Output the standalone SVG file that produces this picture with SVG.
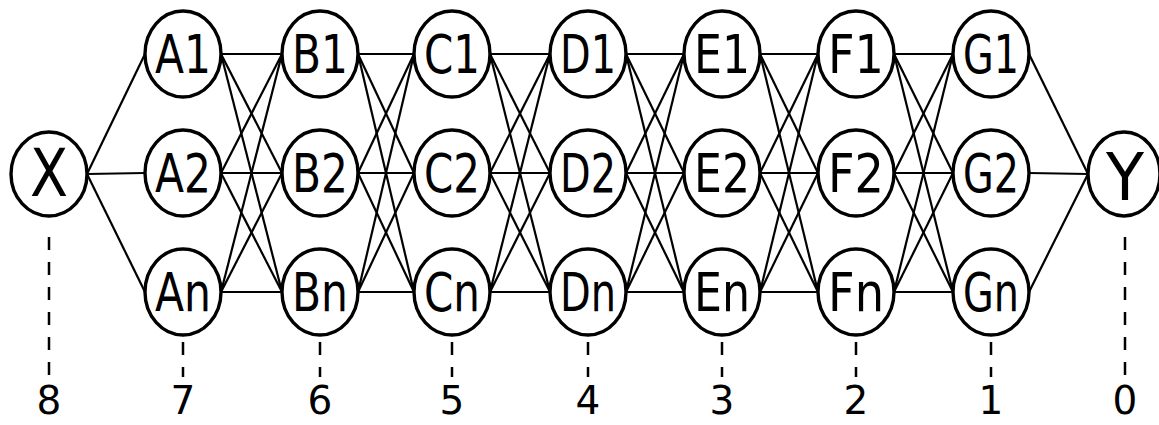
<svg xmlns="http://www.w3.org/2000/svg" width="1159" height="425" viewBox="0 0 1159 425">
<style>
.n ellipse{fill:#fff;stroke:#000;stroke-width:3.4}
.n text{font-family:"DejaVu Sans",Verdana,sans-serif;font-size:53px;text-anchor:middle;fill:#000}
.n text.big{font-size:66px}
#edges line{stroke:#000;stroke-width:2.2}
#guides line{stroke:#000;stroke-width:2.5;stroke-dasharray:13 12}
#levels text{font-family:"DejaVu Sans",Verdana,sans-serif;font-size:39px;text-anchor:middle;fill:#000}
</style>
<rect width="1159" height="425" fill="#fff"/>
<g id="edges">
<line x1="87" y1="174" x2="145" y2="54"/><line x1="87" y1="174" x2="145" y2="173"/><line x1="87" y1="174" x2="145" y2="292"/>
<line x1="221" y1="54" x2="282" y2="54"/><line x1="221" y1="54" x2="282" y2="173"/><line x1="221" y1="54" x2="282" y2="292"/>
<line x1="221" y1="173" x2="282" y2="54"/><line x1="221" y1="173" x2="282" y2="173"/><line x1="221" y1="173" x2="282" y2="292"/>
<line x1="221" y1="292" x2="282" y2="54"/><line x1="221" y1="292" x2="282" y2="173"/><line x1="221" y1="292" x2="282" y2="292"/>
<line x1="358" y1="54" x2="414" y2="54"/><line x1="358" y1="54" x2="414" y2="173"/><line x1="358" y1="54" x2="414" y2="292"/>
<line x1="358" y1="173" x2="414" y2="54"/><line x1="358" y1="173" x2="414" y2="173"/><line x1="358" y1="173" x2="414" y2="292"/>
<line x1="358" y1="292" x2="414" y2="54"/><line x1="358" y1="292" x2="414" y2="173"/><line x1="358" y1="292" x2="414" y2="292"/>
<line x1="490" y1="54" x2="550" y2="54"/><line x1="490" y1="54" x2="550" y2="173"/><line x1="490" y1="54" x2="550" y2="292"/>
<line x1="490" y1="173" x2="550" y2="54"/><line x1="490" y1="173" x2="550" y2="173"/><line x1="490" y1="173" x2="550" y2="292"/>
<line x1="490" y1="292" x2="550" y2="54"/><line x1="490" y1="292" x2="550" y2="173"/><line x1="490" y1="292" x2="550" y2="292"/>
<line x1="626" y1="54" x2="684" y2="54"/><line x1="626" y1="54" x2="684" y2="173"/><line x1="626" y1="54" x2="684" y2="292"/>
<line x1="626" y1="173" x2="684" y2="54"/><line x1="626" y1="173" x2="684" y2="173"/><line x1="626" y1="173" x2="684" y2="292"/>
<line x1="626" y1="292" x2="684" y2="54"/><line x1="626" y1="292" x2="684" y2="173"/><line x1="626" y1="292" x2="684" y2="292"/>
<line x1="760" y1="54" x2="818" y2="54"/><line x1="760" y1="54" x2="818" y2="173"/><line x1="760" y1="54" x2="818" y2="292"/>
<line x1="760" y1="173" x2="818" y2="54"/><line x1="760" y1="173" x2="818" y2="173"/><line x1="760" y1="173" x2="818" y2="292"/>
<line x1="760" y1="292" x2="818" y2="54"/><line x1="760" y1="292" x2="818" y2="173"/><line x1="760" y1="292" x2="818" y2="292"/>
<line x1="894" y1="54" x2="953" y2="54"/><line x1="894" y1="54" x2="953" y2="173"/><line x1="894" y1="54" x2="953" y2="292"/>
<line x1="894" y1="173" x2="953" y2="54"/><line x1="894" y1="173" x2="953" y2="173"/><line x1="894" y1="173" x2="953" y2="292"/>
<line x1="894" y1="292" x2="953" y2="54"/><line x1="894" y1="292" x2="953" y2="173"/><line x1="894" y1="292" x2="953" y2="292"/>
<line x1="1029" y1="54" x2="1088" y2="174"/><line x1="1029" y1="173" x2="1088" y2="174"/><line x1="1029" y1="292" x2="1088" y2="174"/>
</g>
<g id="guides">
<line x1="49" y1="237" x2="49" y2="377"/>
<line x1="1125" y1="237" x2="1125" y2="377"/>
<line x1="183" y1="342" x2="183" y2="377"/>
<line x1="320" y1="342" x2="320" y2="377"/>
<line x1="452" y1="342" x2="452" y2="377"/>
<line x1="588" y1="342" x2="588" y2="377"/>
<line x1="722" y1="342" x2="722" y2="377"/>
<line x1="856" y1="342" x2="856" y2="377"/>
<line x1="991" y1="342" x2="991" y2="377"/>
</g>
<g id="node-X" class="n"><ellipse cx="49" cy="174" rx="38" ry="42"/><text class="big" x="49" y="196" textLength="38" lengthAdjust="spacingAndGlyphs">X</text></g>
<g id="node-A1" class="n"><ellipse cx="183" cy="54" rx="38" ry="43"/><text x="183" y="73" textLength="56" lengthAdjust="spacingAndGlyphs">A1</text></g>
<g id="node-A2" class="n"><ellipse cx="183" cy="173" rx="38" ry="43"/><text x="183" y="192" textLength="56" lengthAdjust="spacingAndGlyphs">A2</text></g>
<g id="node-An" class="n"><ellipse cx="183" cy="292" rx="38" ry="43"/><text x="183" y="311" textLength="56" lengthAdjust="spacingAndGlyphs">An</text></g>
<g id="node-B1" class="n"><ellipse cx="320" cy="54" rx="38" ry="43"/><text x="320" y="73" textLength="56" lengthAdjust="spacingAndGlyphs">B1</text></g>
<g id="node-B2" class="n"><ellipse cx="320" cy="173" rx="38" ry="43"/><text x="320" y="192" textLength="56" lengthAdjust="spacingAndGlyphs">B2</text></g>
<g id="node-Bn" class="n"><ellipse cx="320" cy="292" rx="38" ry="43"/><text x="320" y="311" textLength="56" lengthAdjust="spacingAndGlyphs">Bn</text></g>
<g id="node-C1" class="n"><ellipse cx="452" cy="54" rx="38" ry="43"/><text x="452" y="73" textLength="56" lengthAdjust="spacingAndGlyphs">C1</text></g>
<g id="node-C2" class="n"><ellipse cx="452" cy="173" rx="38" ry="43"/><text x="452" y="192" textLength="56" lengthAdjust="spacingAndGlyphs">C2</text></g>
<g id="node-Cn" class="n"><ellipse cx="452" cy="292" rx="38" ry="43"/><text x="452" y="311" textLength="56" lengthAdjust="spacingAndGlyphs">Cn</text></g>
<g id="node-D1" class="n"><ellipse cx="588" cy="54" rx="38" ry="43"/><text x="588" y="73" textLength="56" lengthAdjust="spacingAndGlyphs">D1</text></g>
<g id="node-D2" class="n"><ellipse cx="588" cy="173" rx="38" ry="43"/><text x="588" y="192" textLength="56" lengthAdjust="spacingAndGlyphs">D2</text></g>
<g id="node-Dn" class="n"><ellipse cx="588" cy="292" rx="38" ry="43"/><text x="588" y="311" textLength="56" lengthAdjust="spacingAndGlyphs">Dn</text></g>
<g id="node-E1" class="n"><ellipse cx="722" cy="54" rx="38" ry="43"/><text x="722" y="73" textLength="56" lengthAdjust="spacingAndGlyphs">E1</text></g>
<g id="node-E2" class="n"><ellipse cx="722" cy="173" rx="38" ry="43"/><text x="722" y="192" textLength="56" lengthAdjust="spacingAndGlyphs">E2</text></g>
<g id="node-En" class="n"><ellipse cx="722" cy="292" rx="38" ry="43"/><text x="722" y="311" textLength="56" lengthAdjust="spacingAndGlyphs">En</text></g>
<g id="node-F1" class="n"><ellipse cx="856" cy="54" rx="38" ry="43"/><text x="856" y="73" textLength="56" lengthAdjust="spacingAndGlyphs">F1</text></g>
<g id="node-F2" class="n"><ellipse cx="856" cy="173" rx="38" ry="43"/><text x="856" y="192" textLength="56" lengthAdjust="spacingAndGlyphs">F2</text></g>
<g id="node-Fn" class="n"><ellipse cx="856" cy="292" rx="38" ry="43"/><text x="856" y="311" textLength="56" lengthAdjust="spacingAndGlyphs">Fn</text></g>
<g id="node-G1" class="n"><ellipse cx="991" cy="54" rx="38" ry="43"/><text x="991" y="73" textLength="56" lengthAdjust="spacingAndGlyphs">G1</text></g>
<g id="node-G2" class="n"><ellipse cx="991" cy="173" rx="38" ry="43"/><text x="991" y="192" textLength="56" lengthAdjust="spacingAndGlyphs">G2</text></g>
<g id="node-Gn" class="n"><ellipse cx="991" cy="292" rx="38" ry="43"/><text x="991" y="311" textLength="56" lengthAdjust="spacingAndGlyphs">Gn</text></g>
<g id="node-Y" class="n"><ellipse cx="1124" cy="174" rx="36" ry="42"/><text class="big" x="1125" y="200" textLength="38" lengthAdjust="spacingAndGlyphs">Y</text></g>
<g id="levels">
<text x="49" y="414">8</text>
<text x="183" y="414">7</text>
<text x="320" y="414">6</text>
<text x="452" y="414">5</text>
<text x="588" y="414">4</text>
<text x="722" y="414">3</text>
<text x="856" y="414">2</text>
<text x="991" y="414">1</text>
<text x="1125" y="414">0</text>
</g>
</svg>
